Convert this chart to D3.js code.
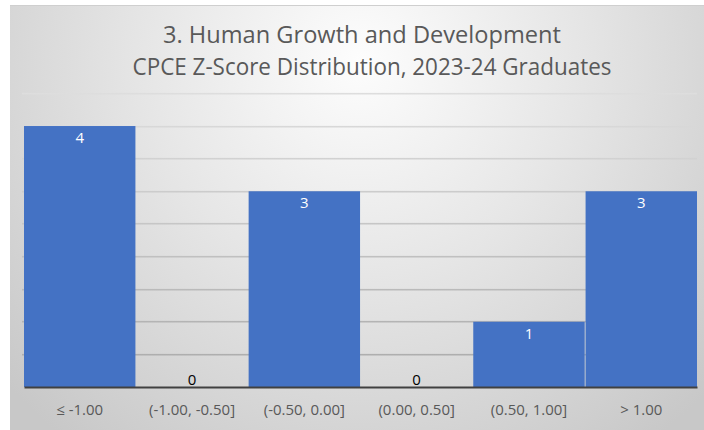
<!DOCTYPE html>
<html>
<head>
<meta charset="utf-8">
<script src="https://cdn.jsdelivr.net/npm/d3@7"></script>
<style>
  body { margin: 0; background: #ffffff; }
  svg { display: block; }
</style>
</head>
<body>
<div id="chart"></div>
<script>
// data
var categories = ["\u2264 -1.00", "(-1.00, -0.50]", "(-0.50, 0.00]", "(0.00, 0.50]", "(0.50, 1.00]", "> 1.00"];
var counts = [4, 0, 3, 0, 1, 3];
var yTicks = [0, 0.5, 1, 1.5, 2, 2.5, 3, 3.5, 4, 4.5];
var titleLines = ["3. Human Growth and Development", "CPCE Z-Score Distribution, 2023-24 Graduates"];

var W = 704, H = 430;
var margin = { top: 93.4, right: 7, bottom: 43, left: 24 };
var width = W - margin.left - margin.right,
    height = H - margin.top - margin.bottom;

var svg = d3.select("#chart")
  .append("svg")
  .attr("width", W)
  .attr("height", H);

// background gradient
var defs = svg.append("defs");
var grad = defs.append("radialGradient")
  .attr("id", "bg")
  .attr("gradientUnits", "userSpaceOnUse")
  .attr("cx", 360).attr("cy", 60).attr("r", 480);
grad.append("stop").attr("offset", "0%").attr("stop-color", "#fdfdfd");
grad.append("stop").attr("offset", "45%").attr("stop-color", "#e6e6e6");
grad.append("stop").attr("offset", "100%").attr("stop-color", "#c8c8c8");

// gridline gradient: fainter near the top
var gridGrad = defs.append("linearGradient")
  .attr("id", "gridcol")
  .attr("gradientUnits", "userSpaceOnUse")
  .attr("x1", 0).attr("x2", 0).attr("y1", 90).attr("y2", 390);
gridGrad.append("stop").attr("offset", "0%").attr("stop-color", "#dedede");
gridGrad.append("stop").attr("offset", "100%").attr("stop-color", "#a8a8a8");

svg.append("rect")
  .attr("x", 10).attr("y", 5)
  .attr("width", W - 10).attr("height", H - 5)
  .attr("fill", "url(#bg)");
svg.append("line")
  .attr("x1", 10).attr("x2", W).attr("y1", 5.5).attr("y2", 5.5)
  .attr("stroke", "#cfcfcf");

// title
var title = svg.append("g").attr("class", "title");
title.selectAll("text")
  .data(titleLines)
  .enter()
  .append("text")
  .attr("x", function(d, i) { return i === 0 ? 362 : 372; })
  .attr("y", function(d, i) { return 43 + i * 32; })
  .attr("text-anchor", "middle")
  .attr("font-family", "'Open Sans', 'Noto Sans', sans-serif")
  .attr("font-size", "23px")
  .attr("fill", "#595959")
  .attr("textLength", function(d, i) { return i === 0 ? 398 : 479; })
  .attr("lengthAdjust", "spacingAndGlyphs")
  .text(function(d) { return d; });

var g = svg.append("g")
  .attr("transform", "translate(" + margin.left + "," + margin.top + ")");

var x = d3.scaleBand()
  .domain(categories)
  .range([0, width])
  .paddingInner(0.008)
  .paddingOuter(0);

var y = d3.scaleLinear()
  .domain([0, 4.5])
  .range([height, 0]);

// gridlines
g.append("g")
  .attr("class", "grid")
  .selectAll("rect")
  .data(yTicks.filter(function(d) { return d > 0; }))
  .enter()
  .append("rect")
  .attr("x", -2)
  .attr("width", width + 2)
  .attr("y", function(d) { return Math.round(y(d)) - 0.5; })
  .attr("height", 1.6)
  .attr("fill", "url(#gridcol)")
  .attr("transform", "translate(0," + (-margin.top) + ")")
  .attr("y", function(d) { return Math.round(y(d)) - 0.5 + margin.top; });

// bars
g.selectAll(".bar")
  .data(counts)
  .enter()
  .append("rect")
  .attr("class", "bar")
  .attr("x", function(d, i) { return x(categories[i]); })
  .attr("width", x.bandwidth())
  .attr("y", function(d) { return y(d); })
  .attr("height", function(d) { return height - y(d); })
  .attr("fill", "#4472C4");

// baseline axis
var xAxis = g.append("g")
  .attr("transform", "translate(0," + height + ")")
  .call(d3.axisBottom(x).tickSize(0).tickPadding(17));
xAxis.select(".domain")
  .attr("stroke", "#404040")
  .attr("stroke-width", 2.2);
xAxis.selectAll("text")
  .attr("font-family", "'Open Sans', 'Noto Sans', sans-serif")
  .attr("font-size", "15px")
  .attr("fill", "#595959");

// value labels
g.selectAll(".label")
  .data(counts)
  .enter()
  .append("text")
  .attr("class", "label")
  .attr("x", function(d, i) { return x(categories[i]) + x.bandwidth() / 2; })
  .attr("y", function(d) { return d > 0 ? y(d) + 17 : y(d) - 2; })
  .attr("text-anchor", "middle")
  .attr("font-family", "'Open Sans', 'Noto Sans', sans-serif")
  .attr("font-size", "15px")
  .attr("fill", function(d) { return d > 0 ? "#ffffff" : "#000000"; })
  .text(function(d) { return d; });
</script>
</body>
</html>
